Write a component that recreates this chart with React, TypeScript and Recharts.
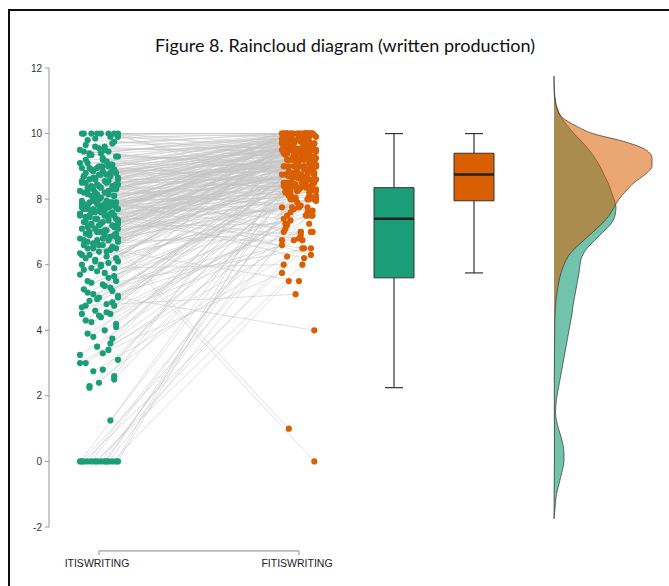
import { Area, ComposedChart, ReferenceArea, ReferenceLine, Scatter, XAxis, YAxis } from "recharts";

const GREEN = "#1b9e77";
const ORANGE = "#d95f02";

const groups = ["ITISWRITING", "FITISWRITING"];
const yTicks = [-2, 0, 2, 4, 6, 8, 10, 12];

// paired scores, one entry per student
const itisScores = [
  0, 0, 0, 0, 0, 0, 0, 0, 0, 0, 0, 0, 0, 0,
  1.25,
  2.25, 2.4, 2.5, 2.75, 2.8,
  3.0, 3.1, 3.25, 3.4, 3.5, 3.75, 3.9, 4.0,
  4.1, 4.25, 4.4, 4.5, 4.5, 4.6, 4.75, 4.75, 4.8, 4.9, 5.0, 5.0,
  5.1, 5.2, 5.25, 5.4, 5.5, 5.5, 5.6, 5.7, 5.75, 5.8, 5.9, 5.9, 6.0, 6.0, 5.3,
  6.1, 6.1, 6.2, 6.25, 6.3, 6.4, 6.5, 6.5, 6.5, 6.6, 6.6, 6.7, 6.75, 6.75, 6.8, 6.8, 6.9, 6.9, 7.0, 7.0,
  6.3, 6.45, 6.55, 6.85, 6.95,
  7.05, 7.1, 7.1, 7.15, 7.2, 7.2, 7.25, 7.3, 7.3, 7.35, 7.4, 7.4, 7.45, 7.5, 7.5, 7.5, 7.55, 7.55, 7.6, 7.6,
  7.6, 7.65, 7.65, 7.7, 7.7, 7.7, 7.75, 7.75, 7.8, 7.8, 7.8, 7.85, 7.85, 7.9, 7.9, 7.9, 7.95, 7.95, 8.0, 8.0,
  7.35, 7.45, 7.65, 7.85, 7.55,
  8.05, 8.1, 8.1, 8.15, 8.2, 8.2, 8.25, 8.3, 8.3, 8.35, 8.4, 8.4, 8.45, 8.5, 8.5, 8.55, 8.6, 8.6, 8.65, 8.7,
  8.7, 8.75, 8.8, 8.8, 8.85, 8.9, 8.9, 8.95, 9.0, 9.0, 8.25, 8.45, 8.65, 8.85, 8.15,
  9.05, 9.1, 9.15, 9.2, 9.25, 9.3, 9.35, 9.4, 9.45, 9.5, 9.6, 9.7, 9.8, 9.9, 10, 10, 10, 10, 10, 9.55,
  2.3, 2.6, 3.0, 3.3, 3.6, 3.8,
  4.2, 4.3, 4.45, 4.55, 4.7, 4.85, 4.95, 5.05, 5.15, 5.35, 5.45, 5.65, 5.85, 5.95,
  6.05, 6.15, 6.2, 6.35, 6.4, 6.5, 6.55, 6.6, 6.65, 6.7, 6.75, 6.8, 6.85, 6.9, 6.95, 7.0,
  7.05, 7.1, 7.15, 7.2, 7.25, 7.3, 7.35, 7.4, 7.45, 7.5, 7.55, 7.6, 7.65, 7.7, 7.75, 7.8, 7.85, 7.9, 7.95, 7.25,
  7.45, 7.65, 7.85, 7.5,
  8.05, 8.1, 8.15, 8.2, 8.25, 8.3, 8.35, 8.4, 8.45, 8.5, 8.55, 8.6, 8.65, 8.7, 8.75, 8.8, 8.85, 8.9, 8.95, 9.0,
  8.35, 8.55, 8.75, 8.95,
  9.05, 9.1, 9.2, 9.3, 9.35, 9.45, 9.5, 9.6, 9.65, 9.75, 9.85, 9.9, 10, 10, 10, 9.4,
];

const fitisScores = [
  7.5, 8.25, 6.0, 9.0, 8.75, 5.5, 7.75, 9.25, 6.75, 8.5, 9.5, 7.0, 8.0, 6.5,
  8.5,
  7.25, 8.0, 9.0, 6.25, 8.75,
  7.5, 9.25, 8.0, 5.75, 8.5, 9.0, 7.75, 8.25,
  9.5, 6.75, 8.75, 9.0, 7.5, 8.25, 9.25, 5.1, 8.0, 9.75, 4.0, 8.5,
  7.0, 9.0, 8.75, 6.5, 9.5, 8.0, 7.75, 9.25, 8.5, 10, 6.0, 9.0, 8.25, 9.75, 7.25,
  9.0, 8.0, 9.5, 7.5, 8.75, 9.25, 0.0, 8.5, 9.75, 7.0, 9.0, 8.25, 9.5, 6.75, 8.0, 9.25, 10, 8.75, 9.0, 7.75,
  9.6, 5.5, 9.4, 8.6, 9.1,
  9.3, 8.5, 9.75, 7.25, 9.0, 8.8, 10, 9.5, 8.1, 6.5, 9.2, 8.7, 9.6, 7.9, 9.4, 8.9, 10, 9.1, 8.3, 9.7,
  6.2, 9.3, 8.6, 1.0, 9.8, 9.0, 8.4, 9.5, 7.6, 9.2, 10, 8.8, 9.4, 9.9, 8.2, 9.1, 7.1, 9.6, 9.3, 8.7,
  9.45, 8.15, 9.85, 7.4, 6.9,
  9.5, 9.0, 10, 8.4, 9.7, 9.2, 7.8, 9.6, 8.9, 10, 9.3, 8.1, 9.8, 9.1, 7.5, 9.9, 8.6, 9.4, 10, 9.0,
  8.3, 9.6, 9.2, 7.0, 9.75, 8.8, 9.35, 10, 9.5, 8.5, 9.15, 8.7, 9.55, 8.95, 6.3,
  9.7, 9.0, 10, 9.4, 8.2, 9.8, 9.1, 10, 8.9, 9.6, 9.3, 10, 9.5, 8.7, 10, 9.2, 9.9, 8.4, 10, 9.45,
  8.9, 9.6, 7.0, 9.4, 8.1, 9.9,
  8.6, 9.3, 7.2, 9.7, 8.4, 9.1, 6.6, 9.55, 8.3, 9.85, 7.6, 9.2, 8.05, 9.65,
  9.35, 8.45, 9.9, 7.35, 9.05, 8.65, 10, 9.45, 7.95, 9.7, 8.35, 9.6, 10, 8.05, 9.25, 9.8,
  8.95, 10, 9.65, 8.25, 9.35, 7.7, 10, 9.05, 8.55, 9.75, 8.35, 9.15, 10, 8.75, 9.55, 8.45, 9.95, 9.25, 8.05, 9.9,
  6.8, 9.45, 8.65, 10,
  9.85, 8.75, 9.4, 10, 8.55, 9.25, 9.7, 8.95, 10, 9.45, 8.35, 9.9, 9.05, 10, 8.85, 9.65, 10, 9.15, 8.45, 9.8,
  7.65, 9.6, 10, 9.5,
  10, 9.55, 10, 9.05, 9.75, 10, 8.8, 9.9, 10, 9.35, 10, 9.6, 10, 9.7, 9.4, 9.95,
];

// horizontal jitter of the dots (-10 .. 10)
const itisJitter = [
  -9, 4, -2, 10, -6, 7, 1, -10, 5, -4, 9, -1, 3, -8, 6, -5, 0, 8, -3, 2,
  -7, 10, -10, 5, -1, 7, -6, 3, 9, -4, 1, -9, 6, -2, 8, -7, 4, -5, 10, 0,
  -3, 7, -8, 2, 9, -6, 5, -10, 3, -1, 8, -4, 1, -9, 6, -2, 10, -7, 4, -5,
  0, 9, -3, 7, -8, 2, -6, 5, -1, 10, -10, 3, 8, -5, 1, -9, 6, -3, 9, -7,
  4, -2, 10, -6, 0, 7, -4, 2, -8, 5, -1, 9, -7, 3, -5, 8, -10, 6, -2, 1,
  7, -4, 0, -8, 10, -3, 5, -9, 2, 6, -6, 3, -1, 9, -5, 7, -9, 4, 0, -3,
  10, -7, 2, 6, -10, 1, 8, -4, 5, -2, -8, 5, -3, 9, -6, 0, 7, -1, 4, -9,
  3, -5, 10, -2, 6, -8, 1, 9, -7, 2, -4, 8, -9, 5, 0, -6, 10, -3, 7, -1,
  6, -10, 4, -7, 2, 9, -5, 1, -8, 3, -2, 7, -6, 10, -4, 5, -1, 8, -9, 0,
  -5, 8, -10, 2, 6, -3, 9, -7, 0, 4, -9, 7, -1, 10, -6, 3, -4, 8, -8, 1,
  5, -2, 9, -10, 4, -6, 7, 0, -3, 10, -8, 2, 6, -5, 9, -1, 3, -9, 8, -4,
  1, -7, 10, -2, 5, -10, 7, -4, 3, -6, 9, 0, -8, 6, -3, 10, -5, 2, -9, 4,
  -1, 8, -6, 3, -10, 7, 1, -4, 9, -7, 5, -2, 10, -8, 0, 6, -3, 8, -5, 2,
  9, -9, 4, -1, 7, -6, 2, 10, -4, 5, -10, 3, -7, 8, -2, 6, -8, 1, 10, -5,
];

const fitisJitter = [
  5, -8, 2, -3, 9, -6, 0, 7, -10, 4, -1, 8, -5, 3, -9, 6, -2, 10, -7, 1,
  7, -4, 9, -10, 2, -6, 5, -1, 8, -3, -8, 0, 4, -5, 10, -2, 6, -9, 9, -7,
  1, 9, -3, 7, -6, 5, -10, 2, -4, 8, -9, 3, -1, 6, -7, 10, -4, 0, 8, -2,
  4, 9, -6, -3, 1, -8, 7, -5, 2, 10, -2, 6, -10, 3, -4, 8, 0, -7, 5, -1,
  9, -5, 1, -8, 7, -3, 4, 10, -6, 2, -7, 2, 8, -1, -9, 5, -4, 6, 0, -10,
  3, -2, 10, -6, 4, -9, 7, 1, -5, 8, -3, 9, -7, 0, 6, -1, -8, 5, 2, -4,
  10, -5, 3, -9, 1, 7, -2, 4, -6, 9, -6, 1, -4, 8, -10, 2, 6, -3, 9, -7,
  0, 7, -8, 4, -2, 10, -5, 3, -9, 6, 8, -3, 5, -7, 9, 0, -6, 2, -1, 7,
  -4, 10, -1, 5, -8, 3, 9, -10, 6, -5, 2, -7, 6, -2, 8, -4, 1, -9, 4, 0,
  3, -9, 7, -2, 10, -5, 1, 8, -7, 4, -3, 9, -10, 6, 0, -6, 5, -1, 8, -4,
  -8, 2, 6, -5, 9, -1, -7, 4, 10, -3, 1, -9, 7, -2, 5, -6, 8, 0, -4, 10,
  6, -3, -8, 9, 2, -10, 4, 7, -5, 1, -2, 8, -6, 3, 10, -9, 0, 5, -4, 7,
  -10, 5, 1, -7, 8, -3, 9, -1, 4, -8, 6, -5, 10, 2, -6, 3, -9, 7, -2, 0,
  8, -4, 2, -10, 6, 1, -7, 9, -3, 5, -1, 10, -8, 4, -5, 7, 0, -6, 3, 9,
];

// box plot summaries [ITIS, FITIS]
const boxMin = [2.25, 5.75];
const boxQ1 = [5.6, 7.95];
const boxMedian = [7.4, 8.75];
const boxQ3 = [8.35, 9.4];
const boxMax = [10, 10];
const boxCenter = [2.475, 2.875];

// half-violin densities, read along the score axis
const densityGrid = [
  11.75, 11.5, 11.25, 11.0, 10.75, 10.5, 10.25, 10.0, 9.75, 9.5, 9.25, 9.0, 8.75, 8.5, 8.25, 8.0,
  7.75, 7.5, 7.25, 7.0, 6.75, 6.5, 6.25, 6.0, 5.75, 5.5, 5.25, 5.0, 4.75, 4.5, 4.25, 4.0,
  3.75, 3.5, 3.25, 3.0, 2.75, 2.5, 2.25, 2.0, 1.75, 1.5, 1.25, 1.0, 0.75, 0.5, 0.25, 0.0,
  -0.25, -0.5, -0.75, -1.0, -1.25, -1.5, -1.75,
];
const densityItis = [
  0, 0.001, 0.0025, 0.0075, 0.015, 0.035, 0.065, 0.1, 0.14, 0.175, 0.205, 0.23, 0.25, 0.27, 0.285, 0.3,
  0.31, 0.305, 0.285, 0.245, 0.205, 0.165, 0.14, 0.13, 0.125, 0.1175, 0.11, 0.1025, 0.095, 0.09, 0.0825, 0.075,
  0.0675, 0.06, 0.0525, 0.045, 0.0375, 0.03, 0.0225, 0.015, 0.01, 0.0075, 0.0125, 0.0225, 0.035, 0.045, 0.05, 0.05,
  0.0425, 0.0325, 0.0225, 0.0125, 0.0075, 0.004, 0,
];
const densityFitis = [
  0, 0, 0.001, 0.005, 0.0175, 0.04, 0.105, 0.195, 0.355, 0.46, 0.49, 0.49, 0.455, 0.4, 0.36, 0.325,
  0.3, 0.275, 0.24, 0.195, 0.15, 0.105, 0.07, 0.05, 0.035, 0.025, 0.0175, 0.011, 0.0075, 0.005, 0.004, 0.0035,
  0.003, 0.0025, 0.002, 0.002, 0.0015, 0.0015, 0.0015, 0.0015, 0.0015, 0.0015, 0.002, 0.002, 0.002, 0.002, 0.002, 0.002,
  0.0015, 0.001, 0.001, 0.0005, 0.0005, 0.0002, 0,
];

const CLOUD_BASE = 3.275;
const AXIS_FONT = "'Liberation Sans', Arial, sans-serif";

const itisPoints = itisScores.map((v, i) => ({ x: 1 + itisJitter[i] * 0.0095, v }));
const fitisPoints = fitisScores.map((v, i) => ({ x: 2 + fitisJitter[i] * 0.0085, v }));
const itisCloud = densityGrid.map((v, i) => ({ v, x: CLOUD_BASE + densityItis[i] }));
const fitisCloud = densityGrid.map((v, i) => ({ v, x: CLOUD_BASE + densityFitis[i] }));

const dot = (fill: string) => (p: any) => <circle cx={p.cx} cy={p.cy} r={3.1} fill={fill} />;

export default function App() {
  const boxFill = [GREEN, ORANGE];
  return (
    <div style={{ position: "absolute", left: 0, top: 0, width: 669, height: 586, background: "#fff" }}>
      <div
        style={{
          position: "absolute",
          left: 8,
          top: 9,
          right: 0,
          bottom: 0,
          borderTop: "2px solid #111",
          borderLeft: "2px solid #111",
        }}
      />
      <div
        style={{
          position: "absolute",
          left: 0,
          top: 33,
          width: 690,
          textAlign: "center",
          fontFamily: "Lato, sans-serif",
          fontSize: 18,
          lineHeight: "24px",
          color: "#111",
        }}
      >
        Figure 8. Raincloud diagram (written production)
      </div>
      <ComposedChart
        width={669}
        height={586}
        layout="vertical"
        margin={{ top: 68, right: 0, bottom: 0, left: 0 }}
        style={{ position: "absolute", left: 0, top: 0, fontFamily: AXIS_FONT }}
      >
        <XAxis
          type="number"
          dataKey="x"
          domain={[0.75, 3.85]}
          ticks={[1, 2]}
          interval={0}
          allowDataOverflow
          tickFormatter={(t) => groups[t - 1]}
          axisLine={false}
          tickLine={false}
          tickSize={0}
          tickMargin={33}
          height={59}
          tick={{ fontSize: 10.5, fill: "#222", fontFamily: AXIS_FONT, dx: -2 }}
        />
        <YAxis
          type="number"
          dataKey="v"
          domain={[-2, 12]}
          reversed
          ticks={yTicks}
          interval={0}
          allowDataOverflow
          width={49}
          axisLine={{ stroke: "#999" }}
          tickLine={{ stroke: "#999" }}
          tickSize={4}
          tickMargin={3}
          tick={{ fontSize: 10, fill: "#333", fontFamily: AXIS_FONT }}
        />
        {itisPoints.map((p, i) => (
          <ReferenceLine
            key={"pair" + i}
            segment={[
              { x: p.x, y: p.v },
              { x: fitisPoints[i].x, y: fitisPoints[i].v },
            ]}
            stroke="#c4c4c4"
            strokeWidth={0.55}
            ifOverflow="visible"
          />
        ))}
        <Area
          data={itisCloud}
          dataKey="x"
          type="monotone"
          baseValue={CLOUD_BASE}
          fill={GREEN}
          fillOpacity={0.62}
          stroke="#333"
          strokeWidth={0.7}
          isAnimationActive={false}
        />
        <Area
          data={fitisCloud}
          dataKey="x"
          type="monotone"
          baseValue={CLOUD_BASE}
          fill={ORANGE}
          fillOpacity={0.55}
          stroke="#333"
          strokeWidth={0.7}
          isAnimationActive={false}
        />
        {boxCenter.map((c, i) => (
          <ReferenceArea
            key={"box" + i}
            x1={c - 0.1}
            x2={c + 0.1}
            y1={boxQ1[i]}
            y2={boxQ3[i]}
            fill={boxFill[i]}
            fillOpacity={1}
            stroke="#333"
            strokeWidth={1}
          />
        ))}
        {boxCenter.map((c, i) => [
          <ReferenceLine key={"wu" + i} segment={[{ x: c, y: boxQ3[i] }, { x: c, y: boxMax[i] }]} stroke="#333" strokeWidth={1.2} />,
          <ReferenceLine key={"wl" + i} segment={[{ x: c, y: boxMin[i] }, { x: c, y: boxQ1[i] }]} stroke="#333" strokeWidth={1.2} />,
          <ReferenceLine key={"cu" + i} segment={[{ x: c - 0.045, y: boxMax[i] }, { x: c + 0.045, y: boxMax[i] }]} stroke="#333" strokeWidth={1.2} />,
          <ReferenceLine key={"cl" + i} segment={[{ x: c - 0.045, y: boxMin[i] }, { x: c + 0.045, y: boxMin[i] }]} stroke="#333" strokeWidth={1.2} />,
          <ReferenceLine key={"md" + i} segment={[{ x: c - 0.1, y: boxMedian[i] }, { x: c + 0.1, y: boxMedian[i] }]} stroke="#222" strokeWidth={2.5} />,
        ])}
        <Scatter data={itisPoints} fill={GREEN} shape={dot(GREEN)} isAnimationActive={false} />
        <Scatter data={fitisPoints} fill={ORANGE} shape={dot(ORANGE)} isAnimationActive={false} />
        <ReferenceLine segment={[{ x: 1, y: -2.73 }, { x: 2, y: -2.73 }]} stroke="#888" ifOverflow="visible" />
        <ReferenceLine segment={[{ x: 1, y: -2.73 }, { x: 1, y: -2.86 }]} stroke="#888" ifOverflow="visible" />
        <ReferenceLine segment={[{ x: 2, y: -2.73 }, { x: 2, y: -2.86 }]} stroke="#888" ifOverflow="visible" />
      </ComposedChart>
    </div>
  );
}
